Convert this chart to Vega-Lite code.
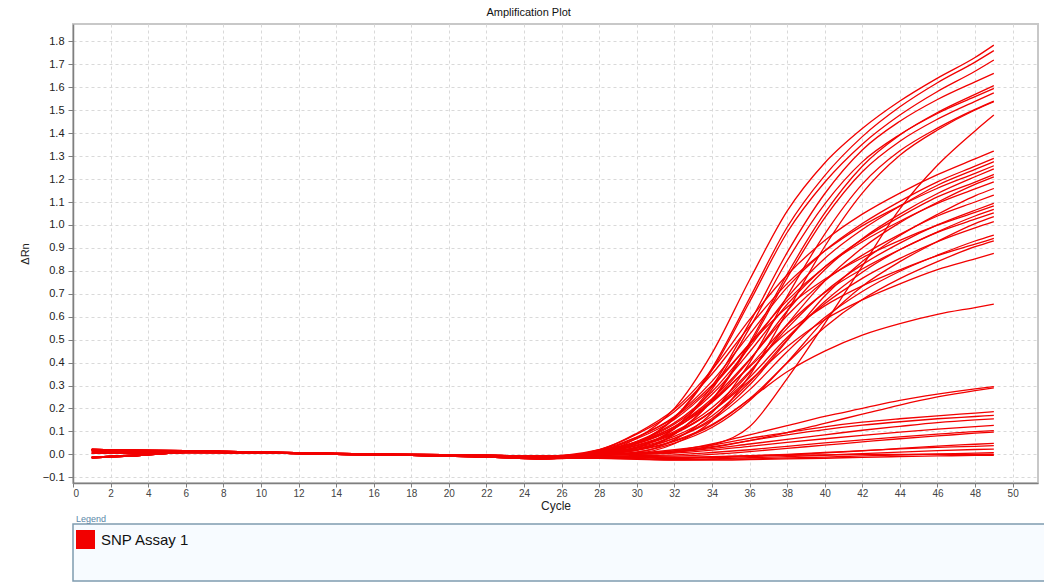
{
  "$schema": "https://vega.github.io/schema/vega-lite/v6.json",
  "background": "white",
  "padding": {"left": 18, "top": 6, "right": 0, "bottom": 0},
  "spacing": 2,
  "columns": 1,
  "align": "none",
  "resolve": {"scale": {"color": "independent"}, "legend": {"color": "independent"}},
  "config": {
    "font": "Liberation Sans",
    "axis": {
      "domainColor": "#7f7f7f",
      "domainWidth": 1.5,
      "tickColor": "#7f7f7f",
      "gridColor": "#d9d9d9",
      "gridDash": [3, 3],
      "gridWidth": 1,
      "titleFontWeight": "normal",
      "titleColor": "#222222"
    }
  },
  "datasets": {
    "curves": [
      {"well":"H1","cycle":1,"rn":0.022},{"well":"H1","cycle":3,"rn":0.018},{"well":"H1","cycle":6,"rn":0.016},{"well":"H1","cycle":10,"rn":0.01},{"well":"H1","cycle":14,"rn":0.004},{"well":"H1","cycle":18,"rn":0},{"well":"H1","cycle":22,"rn":-0.004},{"well":"H1","cycle":25,"rn":-0.008},{"well":"H1","cycle":28,"rn":0.01},{"well":"H1","cycle":30,"rn":0.07},{"well":"H1","cycle":32,"rn":0.2},{"well":"H1","cycle":34,"rn":0.44},{"well":"H1","cycle":36,"rn":0.76},{"well":"H1","cycle":38,"rn":1.06},{"well":"H1","cycle":40,"rn":1.27},{"well":"H1","cycle":42,"rn":1.42},{"well":"H1","cycle":44,"rn":1.54},{"well":"H1","cycle":46,"rn":1.64},{"well":"H1","cycle":48,"rn":1.73},{"well":"H1","cycle":49,"rn":1.784},
      {"well":"H2","cycle":1,"rn":0.015},{"well":"H2","cycle":3,"rn":0.012},{"well":"H2","cycle":6,"rn":0.014},{"well":"H2","cycle":10,"rn":0.009},{"well":"H2","cycle":14,"rn":0.003},{"well":"H2","cycle":18,"rn":-0.002},{"well":"H2","cycle":22,"rn":-0.006},{"well":"H2","cycle":25,"rn":-0.01},{"well":"H2","cycle":28,"rn":0.005},{"well":"H2","cycle":30,"rn":0.05},{"well":"H2","cycle":32,"rn":0.16},{"well":"H2","cycle":34,"rn":0.375},{"well":"H2","cycle":36,"rn":0.68},{"well":"H2","cycle":38,"rn":0.99},{"well":"H2","cycle":40,"rn":1.215},{"well":"H2","cycle":42,"rn":1.385},{"well":"H2","cycle":44,"rn":1.515},{"well":"H2","cycle":46,"rn":1.62},{"well":"H2","cycle":48,"rn":1.71},{"well":"H2","cycle":49,"rn":1.76},
      {"well":"H3","cycle":1,"rn":-0.012},{"well":"H3","cycle":3,"rn":-0.005},{"well":"H3","cycle":6,"rn":0.012},{"well":"H3","cycle":10,"rn":0.008},{"well":"H3","cycle":14,"rn":0.002},{"well":"H3","cycle":18,"rn":-0.002},{"well":"H3","cycle":22,"rn":-0.008},{"well":"H3","cycle":25,"rn":-0.014},{"well":"H3","cycle":28,"rn":0.005},{"well":"H3","cycle":30,"rn":0.049},{"well":"H3","cycle":32,"rn":0.156},{"well":"H3","cycle":34,"rn":0.366},{"well":"H3","cycle":36,"rn":0.664},{"well":"H3","cycle":38,"rn":0.967},{"well":"H3","cycle":40,"rn":1.186},{"well":"H3","cycle":42,"rn":1.352},{"well":"H3","cycle":44,"rn":1.479},{"well":"H3","cycle":46,"rn":1.582},{"well":"H3","cycle":48,"rn":1.67},{"well":"H3","cycle":49,"rn":1.719},
      {"well":"H4","cycle":1,"rn":0.005},{"well":"H4","cycle":3,"rn":0.006},{"well":"H4","cycle":6,"rn":0.01},{"well":"H4","cycle":10,"rn":0.007},{"well":"H4","cycle":14,"rn":0.002},{"well":"H4","cycle":18,"rn":-0.003},{"well":"H4","cycle":22,"rn":-0.007},{"well":"H4","cycle":25,"rn":-0.012},{"well":"H4","cycle":28,"rn":0},{"well":"H4","cycle":30,"rn":0.029},{"well":"H4","cycle":32,"rn":0.115},{"well":"H4","cycle":34,"rn":0.296},{"well":"H4","cycle":36,"rn":0.573},{"well":"H4","cycle":38,"rn":0.879},{"well":"H4","cycle":40,"rn":1.136},{"well":"H4","cycle":42,"rn":1.327},{"well":"H4","cycle":44,"rn":1.452},{"well":"H4","cycle":46,"rn":1.547},{"well":"H4","cycle":48,"rn":1.624},{"well":"H4","cycle":49,"rn":1.661},
      {"well":"H5","cycle":1,"rn":0.02},{"well":"H5","cycle":3,"rn":0.015},{"well":"H5","cycle":6,"rn":0.013},{"well":"H5","cycle":10,"rn":0.006},{"well":"H5","cycle":14,"rn":0},{"well":"H5","cycle":18,"rn":-0.005},{"well":"H5","cycle":22,"rn":-0.012},{"well":"H5","cycle":25,"rn":-0.02},{"well":"H5","cycle":28,"rn":0},{"well":"H5","cycle":30,"rn":0.019},{"well":"H5","cycle":32,"rn":0.089},{"well":"H5","cycle":34,"rn":0.238},{"well":"H5","cycle":36,"rn":0.486},{"well":"H5","cycle":38,"rn":0.785},{"well":"H5","cycle":40,"rn":1.051},{"well":"H5","cycle":42,"rn":1.256},{"well":"H5","cycle":44,"rn":1.392},{"well":"H5","cycle":46,"rn":1.49},{"well":"H5","cycle":48,"rn":1.569},{"well":"H5","cycle":49,"rn":1.607},
      {"well":"H6","cycle":1,"rn":0.022},{"well":"H6","cycle":3,"rn":0.018},{"well":"H6","cycle":6,"rn":0.016},{"well":"H6","cycle":10,"rn":0.01},{"well":"H6","cycle":14,"rn":0.004},{"well":"H6","cycle":18,"rn":0},{"well":"H6","cycle":22,"rn":-0.004},{"well":"H6","cycle":25,"rn":-0.008},{"well":"H6","cycle":28,"rn":0},{"well":"H6","cycle":30,"rn":0.028},{"well":"H6","cycle":32,"rn":0.11},{"well":"H6","cycle":34,"rn":0.284},{"well":"H6","cycle":36,"rn":0.55},{"well":"H6","cycle":38,"rn":0.844},{"well":"H6","cycle":40,"rn":1.091},{"well":"H6","cycle":42,"rn":1.275},{"well":"H6","cycle":44,"rn":1.394},{"well":"H6","cycle":46,"rn":1.486},{"well":"H6","cycle":48,"rn":1.559},{"well":"H6","cycle":49,"rn":1.595},
      {"well":"H7","cycle":1,"rn":-0.015},{"well":"H7","cycle":3,"rn":-0.008},{"well":"H7","cycle":6,"rn":0.008},{"well":"H7","cycle":10,"rn":0.006},{"well":"H7","cycle":14,"rn":0},{"well":"H7","cycle":18,"rn":-0.004},{"well":"H7","cycle":22,"rn":-0.01},{"well":"H7","cycle":25,"rn":-0.016},{"well":"H7","cycle":28,"rn":0},{"well":"H7","cycle":30,"rn":0.018},{"well":"H7","cycle":32,"rn":0.087},{"well":"H7","cycle":34,"rn":0.234},{"well":"H7","cycle":36,"rn":0.476},{"well":"H7","cycle":38,"rn":0.769},{"well":"H7","cycle":40,"rn":1.031},{"well":"H7","cycle":42,"rn":1.232},{"well":"H7","cycle":44,"rn":1.365},{"well":"H7","cycle":46,"rn":1.461},{"well":"H7","cycle":48,"rn":1.539},{"well":"H7","cycle":49,"rn":1.576},
      {"well":"H8","cycle":1,"rn":0.015},{"well":"H8","cycle":3,"rn":0.012},{"well":"H8","cycle":6,"rn":0.014},{"well":"H8","cycle":10,"rn":0.009},{"well":"H8","cycle":14,"rn":0.003},{"well":"H8","cycle":18,"rn":-0.002},{"well":"H8","cycle":22,"rn":-0.006},{"well":"H8","cycle":25,"rn":-0.01},{"well":"H8","cycle":28,"rn":0},{"well":"H8","cycle":30,"rn":0.009},{"well":"H8","cycle":32,"rn":0.063},{"well":"H8","cycle":34,"rn":0.181},{"well":"H8","cycle":36,"rn":0.399},{"well":"H8","cycle":38,"rn":0.689},{"well":"H8","cycle":40,"rn":0.96},{"well":"H8","cycle":42,"rn":1.178},{"well":"H8","cycle":44,"rn":1.323},{"well":"H8","cycle":46,"rn":1.422},{"well":"H8","cycle":48,"rn":1.504},{"well":"H8","cycle":49,"rn":1.54},
      {"well":"H9","cycle":1,"rn":0.005},{"well":"H9","cycle":3,"rn":0.006},{"well":"H9","cycle":6,"rn":0.01},{"well":"H9","cycle":10,"rn":0.007},{"well":"H9","cycle":14,"rn":0.002},{"well":"H9","cycle":18,"rn":-0.003},{"well":"H9","cycle":22,"rn":-0.007},{"well":"H9","cycle":25,"rn":-0.012},{"well":"H9","cycle":28,"rn":0},{"well":"H9","cycle":30,"rn":0.005},{"well":"H9","cycle":32,"rn":0.046},{"well":"H9","cycle":34,"rn":0.146},{"well":"H9","cycle":36,"rn":0.343},{"well":"H9","cycle":38,"rn":0.622},{"well":"H9","cycle":40,"rn":0.906},{"well":"H9","cycle":42,"rn":1.139},{"well":"H9","cycle":44,"rn":1.304},{"well":"H9","cycle":46,"rn":1.414},{"well":"H9","cycle":48,"rn":1.501},{"well":"H9","cycle":49,"rn":1.537},
      {"well":"L1","cycle":1,"rn":-0.012},{"well":"L1","cycle":3,"rn":-0.005},{"well":"L1","cycle":6,"rn":0.012},{"well":"L1","cycle":10,"rn":0.008},{"well":"L1","cycle":14,"rn":0.002},{"well":"L1","cycle":18,"rn":-0.002},{"well":"L1","cycle":22,"rn":-0.008},{"well":"L1","cycle":25,"rn":-0.014},{"well":"L1","cycle":28,"rn":0},{"well":"L1","cycle":30,"rn":0},{"well":"L1","cycle":32,"rn":0.01},{"well":"L1","cycle":34,"rn":0.04},{"well":"L1","cycle":36,"rn":0.12},{"well":"L1","cycle":38,"rn":0.33},{"well":"L1","cycle":40,"rn":0.57},{"well":"L1","cycle":42,"rn":0.82},{"well":"L1","cycle":44,"rn":1.07},{"well":"L1","cycle":46,"rn":1.26},{"well":"L1","cycle":48,"rn":1.41},{"well":"L1","cycle":49,"rn":1.479},
      {"well":"M1","cycle":1,"rn":0.022},{"well":"M1","cycle":3,"rn":0.018},{"well":"M1","cycle":6,"rn":0.016},{"well":"M1","cycle":10,"rn":0.01},{"well":"M1","cycle":14,"rn":0.004},{"well":"M1","cycle":18,"rn":0},{"well":"M1","cycle":22,"rn":-0.004},{"well":"M1","cycle":25,"rn":-0.008},{"well":"M1","cycle":28,"rn":0.02},{"well":"M1","cycle":30,"rn":0.092},{"well":"M1","cycle":32,"rn":0.196},{"well":"M1","cycle":34,"rn":0.368},{"well":"M1","cycle":36,"rn":0.587},{"well":"M1","cycle":38,"rn":0.782},{"well":"M1","cycle":40,"rn":0.932},{"well":"M1","cycle":42,"rn":1.047},{"well":"M1","cycle":44,"rn":1.139},{"well":"M1","cycle":46,"rn":1.219},{"well":"M1","cycle":48,"rn":1.288},{"well":"M1","cycle":49,"rn":1.322},
      {"well":"M2","cycle":1,"rn":0.015},{"well":"M2","cycle":3,"rn":0.012},{"well":"M2","cycle":6,"rn":0.014},{"well":"M2","cycle":10,"rn":0.009},{"well":"M2","cycle":14,"rn":0.003},{"well":"M2","cycle":18,"rn":-0.002},{"well":"M2","cycle":22,"rn":-0.006},{"well":"M2","cycle":25,"rn":-0.01},{"well":"M2","cycle":28,"rn":0.015},{"well":"M2","cycle":30,"rn":0.074},{"well":"M2","cycle":32,"rn":0.165},{"well":"M2","cycle":34,"rn":0.318},{"well":"M2","cycle":36,"rn":0.523},{"well":"M2","cycle":38,"rn":0.728},{"well":"M2","cycle":40,"rn":0.887},{"well":"M2","cycle":42,"rn":1.006},{"well":"M2","cycle":44,"rn":1.103},{"well":"M2","cycle":46,"rn":1.188},{"well":"M2","cycle":48,"rn":1.256},{"well":"M2","cycle":49,"rn":1.29},
      {"well":"M3","cycle":1,"rn":-0.012},{"well":"M3","cycle":3,"rn":-0.005},{"well":"M3","cycle":6,"rn":0.012},{"well":"M3","cycle":10,"rn":0.008},{"well":"M3","cycle":14,"rn":0.002},{"well":"M3","cycle":18,"rn":-0.002},{"well":"M3","cycle":22,"rn":-0.008},{"well":"M3","cycle":25,"rn":-0.014},{"well":"M3","cycle":28,"rn":0.011},{"well":"M3","cycle":30,"rn":0.057},{"well":"M3","cycle":32,"rn":0.137},{"well":"M3","cycle":34,"rn":0.273},{"well":"M3","cycle":36,"rn":0.467},{"well":"M3","cycle":38,"rn":0.683},{"well":"M3","cycle":40,"rn":0.854},{"well":"M3","cycle":42,"rn":0.98},{"well":"M3","cycle":44,"rn":1.082},{"well":"M3","cycle":46,"rn":1.173},{"well":"M3","cycle":48,"rn":1.242},{"well":"M3","cycle":49,"rn":1.276},
      {"well":"M4","cycle":1,"rn":-0.015},{"well":"M4","cycle":3,"rn":-0.008},{"well":"M4","cycle":6,"rn":0.008},{"well":"M4","cycle":10,"rn":0.006},{"well":"M4","cycle":14,"rn":0},{"well":"M4","cycle":18,"rn":-0.004},{"well":"M4","cycle":22,"rn":-0.01},{"well":"M4","cycle":25,"rn":-0.016},{"well":"M4","cycle":28,"rn":0.02},{"well":"M4","cycle":30,"rn":0.088},{"well":"M4","cycle":32,"rn":0.186},{"well":"M4","cycle":34,"rn":0.35},{"well":"M4","cycle":36,"rn":0.558},{"well":"M4","cycle":38,"rn":0.744},{"well":"M4","cycle":40,"rn":0.886},{"well":"M4","cycle":42,"rn":0.996},{"well":"M4","cycle":44,"rn":1.083},{"well":"M4","cycle":46,"rn":1.16},{"well":"M4","cycle":48,"rn":1.225},{"well":"M4","cycle":49,"rn":1.258},
      {"well":"M5","cycle":1,"rn":0.005},{"well":"M5","cycle":3,"rn":0.006},{"well":"M5","cycle":6,"rn":0.01},{"well":"M5","cycle":10,"rn":0.007},{"well":"M5","cycle":14,"rn":0.002},{"well":"M5","cycle":18,"rn":-0.003},{"well":"M5","cycle":22,"rn":-0.007},{"well":"M5","cycle":25,"rn":-0.012},{"well":"M5","cycle":28,"rn":0.009},{"well":"M5","cycle":30,"rn":0.045},{"well":"M5","cycle":32,"rn":0.113},{"well":"M5","cycle":34,"rn":0.231},{"well":"M5","cycle":36,"rn":0.411},{"well":"M5","cycle":38,"rn":0.625},{"well":"M5","cycle":40,"rn":0.805},{"well":"M5","cycle":42,"rn":0.94},{"well":"M5","cycle":44,"rn":1.047},{"well":"M5","cycle":46,"rn":1.137},{"well":"M5","cycle":48,"rn":1.21},{"well":"M5","cycle":49,"rn":1.244},
      {"well":"M6","cycle":1,"rn":0.02},{"well":"M6","cycle":3,"rn":0.015},{"well":"M6","cycle":6,"rn":0.013},{"well":"M6","cycle":10,"rn":0.006},{"well":"M6","cycle":14,"rn":0},{"well":"M6","cycle":18,"rn":-0.005},{"well":"M6","cycle":22,"rn":-0.012},{"well":"M6","cycle":25,"rn":-0.02},{"well":"M6","cycle":28,"rn":0.011},{"well":"M6","cycle":30,"rn":0.054},{"well":"M6","cycle":32,"rn":0.131},{"well":"M6","cycle":34,"rn":0.261},{"well":"M6","cycle":36,"rn":0.446},{"well":"M6","cycle":38,"rn":0.653},{"well":"M6","cycle":40,"rn":0.817},{"well":"M6","cycle":42,"rn":0.937},{"well":"M6","cycle":44,"rn":1.035},{"well":"M6","cycle":46,"rn":1.122},{"well":"M6","cycle":48,"rn":1.187},{"well":"M6","cycle":49,"rn":1.22},
      {"well":"M7","cycle":1,"rn":0.022},{"well":"M7","cycle":3,"rn":0.018},{"well":"M7","cycle":6,"rn":0.016},{"well":"M7","cycle":10,"rn":0.01},{"well":"M7","cycle":14,"rn":0.004},{"well":"M7","cycle":18,"rn":0},{"well":"M7","cycle":22,"rn":-0.004},{"well":"M7","cycle":25,"rn":-0.008},{"well":"M7","cycle":28,"rn":0.006},{"well":"M7","cycle":30,"rn":0.033},{"well":"M7","cycle":32,"rn":0.089},{"well":"M7","cycle":34,"rn":0.189},{"well":"M7","cycle":36,"rn":0.355},{"well":"M7","cycle":38,"rn":0.566},{"well":"M7","cycle":40,"rn":0.755},{"well":"M7","cycle":42,"rn":0.899},{"well":"M7","cycle":44,"rn":1.01},{"well":"M7","cycle":46,"rn":1.099},{"well":"M7","cycle":48,"rn":1.177},{"well":"M7","cycle":49,"rn":1.21},
      {"well":"M8","cycle":1,"rn":0.015},{"well":"M8","cycle":3,"rn":0.012},{"well":"M8","cycle":6,"rn":0.014},{"well":"M8","cycle":10,"rn":0.009},{"well":"M8","cycle":14,"rn":0.003},{"well":"M8","cycle":18,"rn":-0.002},{"well":"M8","cycle":22,"rn":-0.006},{"well":"M8","cycle":25,"rn":-0.01},{"well":"M8","cycle":28,"rn":0.015},{"well":"M8","cycle":30,"rn":0.068},{"well":"M8","cycle":32,"rn":0.152},{"well":"M8","cycle":34,"rn":0.293},{"well":"M8","cycle":36,"rn":0.482},{"well":"M8","cycle":38,"rn":0.67},{"well":"M8","cycle":40,"rn":0.817},{"well":"M8","cycle":42,"rn":0.927},{"well":"M8","cycle":44,"rn":1.016},{"well":"M8","cycle":46,"rn":1.094},{"well":"M8","cycle":48,"rn":1.157},{"well":"M8","cycle":49,"rn":1.188},
      {"well":"M9","cycle":1,"rn":-0.012},{"well":"M9","cycle":3,"rn":-0.005},{"well":"M9","cycle":6,"rn":0.012},{"well":"M9","cycle":10,"rn":0.008},{"well":"M9","cycle":14,"rn":0.002},{"well":"M9","cycle":18,"rn":-0.002},{"well":"M9","cycle":22,"rn":-0.008},{"well":"M9","cycle":25,"rn":-0.014},{"well":"M9","cycle":28,"rn":0.002},{"well":"M9","cycle":30,"rn":0.022},{"well":"M9","cycle":32,"rn":0.07},{"well":"M9","cycle":34,"rn":0.156},{"well":"M9","cycle":36,"rn":0.302},{"well":"M9","cycle":38,"rn":0.496},{"well":"M9","cycle":40,"rn":0.69},{"well":"M9","cycle":42,"rn":0.841},{"well":"M9","cycle":44,"rn":0.954},{"well":"M9","cycle":46,"rn":1.046},{"well":"M9","cycle":48,"rn":1.127},{"well":"M9","cycle":49,"rn":1.159},
      {"well":"M10","cycle":1,"rn":-0.015},{"well":"M10","cycle":3,"rn":-0.008},{"well":"M10","cycle":6,"rn":0.008},{"well":"M10","cycle":10,"rn":0.006},{"well":"M10","cycle":14,"rn":0},{"well":"M10","cycle":18,"rn":-0.004},{"well":"M10","cycle":22,"rn":-0.01},{"well":"M10","cycle":25,"rn":-0.016},{"well":"M10","cycle":28,"rn":0.01},{"well":"M10","cycle":30,"rn":0.05},{"well":"M10","cycle":32,"rn":0.121},{"well":"M10","cycle":34,"rn":0.242},{"well":"M10","cycle":36,"rn":0.414},{"well":"M10","cycle":38,"rn":0.605},{"well":"M10","cycle":40,"rn":0.757},{"well":"M10","cycle":42,"rn":0.868},{"well":"M10","cycle":44,"rn":0.959},{"well":"M10","cycle":46,"rn":1.039},{"well":"M10","cycle":48,"rn":1.1},{"well":"M10","cycle":49,"rn":1.13},
      {"well":"M11","cycle":1,"rn":0.005},{"well":"M11","cycle":3,"rn":0.006},{"well":"M11","cycle":6,"rn":0.01},{"well":"M11","cycle":10,"rn":0.007},{"well":"M11","cycle":14,"rn":0.002},{"well":"M11","cycle":18,"rn":-0.003},{"well":"M11","cycle":22,"rn":-0.007},{"well":"M11","cycle":25,"rn":-0.012},{"well":"M11","cycle":28,"rn":0.008},{"well":"M11","cycle":30,"rn":0.04},{"well":"M11","cycle":32,"rn":0.099},{"well":"M11","cycle":34,"rn":0.203},{"well":"M11","cycle":36,"rn":0.361},{"well":"M11","cycle":38,"rn":0.549},{"well":"M11","cycle":40,"rn":0.708},{"well":"M11","cycle":42,"rn":0.827},{"well":"M11","cycle":44,"rn":0.921},{"well":"M11","cycle":46,"rn":1.0},{"well":"M11","cycle":48,"rn":1.064},{"well":"M11","cycle":49,"rn":1.094},
      {"well":"M12","cycle":1,"rn":0.02},{"well":"M12","cycle":3,"rn":0.015},{"well":"M12","cycle":6,"rn":0.013},{"well":"M12","cycle":10,"rn":0.006},{"well":"M12","cycle":14,"rn":0},{"well":"M12","cycle":18,"rn":-0.005},{"well":"M12","cycle":22,"rn":-0.012},{"well":"M12","cycle":25,"rn":-0.02},{"well":"M12","cycle":28,"rn":0.018},{"well":"M12","cycle":30,"rn":0.075},{"well":"M12","cycle":32,"rn":0.16},{"well":"M12","cycle":34,"rn":0.301},{"well":"M12","cycle":36,"rn":0.48},{"well":"M12","cycle":38,"rn":0.641},{"well":"M12","cycle":40,"rn":0.763},{"well":"M12","cycle":42,"rn":0.857},{"well":"M12","cycle":44,"rn":0.933},{"well":"M12","cycle":46,"rn":0.999},{"well":"M12","cycle":48,"rn":1.055},{"well":"M12","cycle":49,"rn":1.083},
      {"well":"M13","cycle":1,"rn":0.022},{"well":"M13","cycle":3,"rn":0.018},{"well":"M13","cycle":6,"rn":0.016},{"well":"M13","cycle":10,"rn":0.01},{"well":"M13","cycle":14,"rn":0.004},{"well":"M13","cycle":18,"rn":0},{"well":"M13","cycle":22,"rn":-0.004},{"well":"M13","cycle":25,"rn":-0.008},{"well":"M13","cycle":28,"rn":0.005},{"well":"M13","cycle":30,"rn":0.029},{"well":"M13","cycle":32,"rn":0.078},{"well":"M13","cycle":34,"rn":0.167},{"well":"M13","cycle":36,"rn":0.314},{"well":"M13","cycle":38,"rn":0.5},{"well":"M13","cycle":40,"rn":0.666},{"well":"M13","cycle":42,"rn":0.794},{"well":"M13","cycle":44,"rn":0.892},{"well":"M13","cycle":46,"rn":0.97},{"well":"M13","cycle":48,"rn":1.039},{"well":"M13","cycle":49,"rn":1.068},
      {"well":"M14","cycle":1,"rn":0.015},{"well":"M14","cycle":3,"rn":0.012},{"well":"M14","cycle":6,"rn":0.014},{"well":"M14","cycle":10,"rn":0.009},{"well":"M14","cycle":14,"rn":0.003},{"well":"M14","cycle":18,"rn":-0.002},{"well":"M14","cycle":22,"rn":-0.006},{"well":"M14","cycle":25,"rn":-0.01},{"well":"M14","cycle":28,"rn":0.009},{"well":"M14","cycle":30,"rn":0.047},{"well":"M14","cycle":32,"rn":0.113},{"well":"M14","cycle":34,"rn":0.226},{"well":"M14","cycle":36,"rn":0.385},{"well":"M14","cycle":38,"rn":0.564},{"well":"M14","cycle":40,"rn":0.705},{"well":"M14","cycle":42,"rn":0.808},{"well":"M14","cycle":44,"rn":0.893},{"well":"M14","cycle":46,"rn":0.968},{"well":"M14","cycle":48,"rn":1.025},{"well":"M14","cycle":49,"rn":1.053},
      {"well":"M15","cycle":1,"rn":-0.012},{"well":"M15","cycle":3,"rn":-0.005},{"well":"M15","cycle":6,"rn":0.012},{"well":"M15","cycle":10,"rn":0.008},{"well":"M15","cycle":14,"rn":0.002},{"well":"M15","cycle":18,"rn":-0.002},{"well":"M15","cycle":22,"rn":-0.008},{"well":"M15","cycle":25,"rn":-0.014},{"well":"M15","cycle":28,"rn":0},{"well":"M15","cycle":30,"rn":0.01},{"well":"M15","cycle":32,"rn":0.049},{"well":"M15","cycle":34,"rn":0.117},{"well":"M15","cycle":36,"rn":0.234},{"well":"M15","cycle":38,"rn":0.401},{"well":"M15","cycle":40,"rn":0.586},{"well":"M15","cycle":42,"rn":0.733},{"well":"M15","cycle":44,"rn":0.84},{"well":"M15","cycle":46,"rn":0.928},{"well":"M15","cycle":48,"rn":1.006},{"well":"M15","cycle":49,"rn":1.036},
      {"well":"M16","cycle":1,"rn":-0.015},{"well":"M16","cycle":3,"rn":-0.008},{"well":"M16","cycle":6,"rn":0.008},{"well":"M16","cycle":10,"rn":0.006},{"well":"M16","cycle":14,"rn":0},{"well":"M16","cycle":18,"rn":-0.004},{"well":"M16","cycle":22,"rn":-0.01},{"well":"M16","cycle":25,"rn":-0.016},{"well":"M16","cycle":28,"rn":0.007},{"well":"M16","cycle":30,"rn":0.037},{"well":"M16","cycle":32,"rn":0.092},{"well":"M16","cycle":34,"rn":0.188},{"well":"M16","cycle":36,"rn":0.335},{"well":"M16","cycle":38,"rn":0.509},{"well":"M16","cycle":40,"rn":0.656},{"well":"M16","cycle":42,"rn":0.767},{"well":"M16","cycle":44,"rn":0.854},{"well":"M16","cycle":46,"rn":0.927},{"well":"M16","cycle":48,"rn":0.987},{"well":"M16","cycle":49,"rn":1.014},
      {"well":"M17","cycle":1,"rn":0.005},{"well":"M17","cycle":3,"rn":0.006},{"well":"M17","cycle":6,"rn":0.01},{"well":"M17","cycle":10,"rn":0.007},{"well":"M17","cycle":14,"rn":0.002},{"well":"M17","cycle":18,"rn":-0.003},{"well":"M17","cycle":22,"rn":-0.007},{"well":"M17","cycle":25,"rn":-0.012},{"well":"M17","cycle":28,"rn":0.004},{"well":"M17","cycle":30,"rn":0.026},{"well":"M17","cycle":32,"rn":0.07},{"well":"M17","cycle":34,"rn":0.149},{"well":"M17","cycle":36,"rn":0.281},{"well":"M17","cycle":38,"rn":0.447},{"well":"M17","cycle":40,"rn":0.596},{"well":"M17","cycle":42,"rn":0.71},{"well":"M17","cycle":44,"rn":0.798},{"well":"M17","cycle":46,"rn":0.868},{"well":"M17","cycle":48,"rn":0.93},{"well":"M17","cycle":49,"rn":0.956},
      {"well":"M18","cycle":1,"rn":0.02},{"well":"M18","cycle":3,"rn":0.015},{"well":"M18","cycle":6,"rn":0.013},{"well":"M18","cycle":10,"rn":0.006},{"well":"M18","cycle":14,"rn":0},{"well":"M18","cycle":18,"rn":-0.005},{"well":"M18","cycle":22,"rn":-0.012},{"well":"M18","cycle":25,"rn":-0.02},{"well":"M18","cycle":28,"rn":0.017},{"well":"M18","cycle":30,"rn":0.054},{"well":"M18","cycle":32,"rn":0.12},{"well":"M18","cycle":34,"rn":0.232},{"well":"M18","cycle":36,"rn":0.381},{"well":"M18","cycle":38,"rn":0.531},{"well":"M18","cycle":40,"rn":0.647},{"well":"M18","cycle":42,"rn":0.734},{"well":"M18","cycle":44,"rn":0.804},{"well":"M18","cycle":46,"rn":0.866},{"well":"M18","cycle":48,"rn":0.916},{"well":"M18","cycle":49,"rn":0.941},
      {"well":"M19","cycle":1,"rn":0.022},{"well":"M19","cycle":3,"rn":0.018},{"well":"M19","cycle":6,"rn":0.016},{"well":"M19","cycle":10,"rn":0.01},{"well":"M19","cycle":14,"rn":0.004},{"well":"M19","cycle":18,"rn":0},{"well":"M19","cycle":22,"rn":-0.004},{"well":"M19","cycle":25,"rn":-0.008},{"well":"M19","cycle":28,"rn":0.002},{"well":"M19","cycle":30,"rn":0.017},{"well":"M19","cycle":32,"rn":0.056},{"well":"M19","cycle":34,"rn":0.126},{"well":"M19","cycle":36,"rn":0.242},{"well":"M19","cycle":38,"rn":0.398},{"well":"M19","cycle":40,"rn":0.554},{"well":"M19","cycle":42,"rn":0.675},{"well":"M19","cycle":44,"rn":0.766},{"well":"M19","cycle":46,"rn":0.84},{"well":"M19","cycle":48,"rn":0.905},{"well":"M19","cycle":49,"rn":0.931},
      {"well":"M20","cycle":1,"rn":0.015},{"well":"M20","cycle":3,"rn":0.012},{"well":"M20","cycle":6,"rn":0.014},{"well":"M20","cycle":10,"rn":0.009},{"well":"M20","cycle":14,"rn":0.003},{"well":"M20","cycle":18,"rn":-0.002},{"well":"M20","cycle":22,"rn":-0.006},{"well":"M20","cycle":25,"rn":-0.01},{"well":"M20","cycle":28,"rn":0.008},{"well":"M20","cycle":30,"rn":0.039},{"well":"M20","cycle":32,"rn":0.094},{"well":"M20","cycle":34,"rn":0.188},{"well":"M20","cycle":36,"rn":0.321},{"well":"M20","cycle":38,"rn":0.469},{"well":"M20","cycle":40,"rn":0.587},{"well":"M20","cycle":42,"rn":0.673},{"well":"M20","cycle":44,"rn":0.743},{"well":"M20","cycle":46,"rn":0.805},{"well":"M20","cycle":48,"rn":0.852},{"well":"M20","cycle":49,"rn":0.876},
      {"well":"Q1","cycle":1,"rn":-0.012},{"well":"Q1","cycle":3,"rn":-0.005},{"well":"Q1","cycle":6,"rn":0.012},{"well":"Q1","cycle":10,"rn":0.008},{"well":"Q1","cycle":14,"rn":0.002},{"well":"Q1","cycle":18,"rn":-0.002},{"well":"Q1","cycle":22,"rn":-0.008},{"well":"Q1","cycle":25,"rn":-0.014},{"well":"Q1","cycle":28,"rn":0.005},{"well":"Q1","cycle":30,"rn":0.02},{"well":"Q1","cycle":32,"rn":0.06},{"well":"Q1","cycle":34,"rn":0.13},{"well":"Q1","cycle":36,"rn":0.24},{"well":"Q1","cycle":38,"rn":0.36},{"well":"Q1","cycle":40,"rn":0.45},{"well":"Q1","cycle":42,"rn":0.52},{"well":"Q1","cycle":44,"rn":0.57},{"well":"Q1","cycle":46,"rn":0.61},{"well":"Q1","cycle":48,"rn":0.64},{"well":"Q1","cycle":49,"rn":0.655},
      {"well":"N1","cycle":1,"rn":-0.015},{"well":"N1","cycle":3,"rn":-0.008},{"well":"N1","cycle":6,"rn":0.008},{"well":"N1","cycle":10,"rn":0.006},{"well":"N1","cycle":14,"rn":0},{"well":"N1","cycle":18,"rn":-0.004},{"well":"N1","cycle":22,"rn":-0.01},{"well":"N1","cycle":25,"rn":-0.016},{"well":"N1","cycle":28,"rn":0},{"well":"N1","cycle":30,"rn":0.004},{"well":"N1","cycle":32,"rn":0.015},{"well":"N1","cycle":34,"rn":0.045},{"well":"N1","cycle":36,"rn":0.085},{"well":"N1","cycle":38,"rn":0.125},{"well":"N1","cycle":40,"rn":0.165},{"well":"N1","cycle":42,"rn":0.2},{"well":"N1","cycle":44,"rn":0.235},{"well":"N1","cycle":46,"rn":0.262},{"well":"N1","cycle":48,"rn":0.285},{"well":"N1","cycle":49,"rn":0.295},
      {"well":"N2","cycle":1,"rn":0.005},{"well":"N2","cycle":3,"rn":0.006},{"well":"N2","cycle":6,"rn":0.01},{"well":"N2","cycle":10,"rn":0.007},{"well":"N2","cycle":14,"rn":0.002},{"well":"N2","cycle":18,"rn":-0.003},{"well":"N2","cycle":22,"rn":-0.007},{"well":"N2","cycle":25,"rn":-0.012},{"well":"N2","cycle":28,"rn":0},{"well":"N2","cycle":30,"rn":0.002},{"well":"N2","cycle":32,"rn":0.01},{"well":"N2","cycle":34,"rn":0.03},{"well":"N2","cycle":36,"rn":0.06},{"well":"N2","cycle":38,"rn":0.095},{"well":"N2","cycle":40,"rn":0.135},{"well":"N2","cycle":42,"rn":0.175},{"well":"N2","cycle":44,"rn":0.215},{"well":"N2","cycle":46,"rn":0.25},{"well":"N2","cycle":48,"rn":0.278},{"well":"N2","cycle":49,"rn":0.29},
      {"well":"N3","cycle":1,"rn":0.02},{"well":"N3","cycle":3,"rn":0.015},{"well":"N3","cycle":6,"rn":0.013},{"well":"N3","cycle":10,"rn":0.006},{"well":"N3","cycle":14,"rn":0},{"well":"N3","cycle":18,"rn":-0.005},{"well":"N3","cycle":22,"rn":-0.012},{"well":"N3","cycle":25,"rn":-0.02},{"well":"N3","cycle":28,"rn":0},{"well":"N3","cycle":30,"rn":0.005},{"well":"N3","cycle":32,"rn":0.02},{"well":"N3","cycle":34,"rn":0.04},{"well":"N3","cycle":36,"rn":0.07},{"well":"N3","cycle":38,"rn":0.095},{"well":"N3","cycle":40,"rn":0.12},{"well":"N3","cycle":42,"rn":0.14},{"well":"N3","cycle":44,"rn":0.155},{"well":"N3","cycle":46,"rn":0.168},{"well":"N3","cycle":48,"rn":0.18},{"well":"N3","cycle":49,"rn":0.186},
      {"well":"N4","cycle":1,"rn":0.022},{"well":"N4","cycle":3,"rn":0.018},{"well":"N4","cycle":6,"rn":0.016},{"well":"N4","cycle":10,"rn":0.01},{"well":"N4","cycle":14,"rn":0.004},{"well":"N4","cycle":18,"rn":0},{"well":"N4","cycle":22,"rn":-0.004},{"well":"N4","cycle":25,"rn":-0.008},{"well":"N4","cycle":28,"rn":-0.002},{"well":"N4","cycle":30,"rn":0.003},{"well":"N4","cycle":32,"rn":0.015},{"well":"N4","cycle":34,"rn":0.033},{"well":"N4","cycle":36,"rn":0.06},{"well":"N4","cycle":38,"rn":0.085},{"well":"N4","cycle":40,"rn":0.108},{"well":"N4","cycle":42,"rn":0.127},{"well":"N4","cycle":44,"rn":0.142},{"well":"N4","cycle":46,"rn":0.155},{"well":"N4","cycle":48,"rn":0.165},{"well":"N4","cycle":49,"rn":0.17},
      {"well":"N5","cycle":1,"rn":0.015},{"well":"N5","cycle":3,"rn":0.012},{"well":"N5","cycle":6,"rn":0.014},{"well":"N5","cycle":10,"rn":0.009},{"well":"N5","cycle":14,"rn":0.003},{"well":"N5","cycle":18,"rn":-0.002},{"well":"N5","cycle":22,"rn":-0.006},{"well":"N5","cycle":25,"rn":-0.01},{"well":"N5","cycle":28,"rn":-0.004},{"well":"N5","cycle":30,"rn":0.002},{"well":"N5","cycle":32,"rn":0.01},{"well":"N5","cycle":34,"rn":0.025},{"well":"N5","cycle":36,"rn":0.045},{"well":"N5","cycle":38,"rn":0.065},{"well":"N5","cycle":40,"rn":0.085},{"well":"N5","cycle":42,"rn":0.105},{"well":"N5","cycle":44,"rn":0.122},{"well":"N5","cycle":46,"rn":0.138},{"well":"N5","cycle":48,"rn":0.15},{"well":"N5","cycle":49,"rn":0.155},
      {"well":"N6","cycle":1,"rn":-0.012},{"well":"N6","cycle":3,"rn":-0.005},{"well":"N6","cycle":6,"rn":0.012},{"well":"N6","cycle":10,"rn":0.008},{"well":"N6","cycle":14,"rn":0.002},{"well":"N6","cycle":18,"rn":-0.002},{"well":"N6","cycle":22,"rn":-0.008},{"well":"N6","cycle":25,"rn":-0.014},{"well":"N6","cycle":28,"rn":-0.006},{"well":"N6","cycle":30,"rn":0},{"well":"N6","cycle":32,"rn":0.005},{"well":"N6","cycle":34,"rn":0.018},{"well":"N6","cycle":36,"rn":0.035},{"well":"N6","cycle":38,"rn":0.052},{"well":"N6","cycle":40,"rn":0.068},{"well":"N6","cycle":42,"rn":0.083},{"well":"N6","cycle":44,"rn":0.097},{"well":"N6","cycle":46,"rn":0.11},{"well":"N6","cycle":48,"rn":0.121},{"well":"N6","cycle":49,"rn":0.126},
      {"well":"N7","cycle":1,"rn":-0.015},{"well":"N7","cycle":3,"rn":-0.008},{"well":"N7","cycle":6,"rn":0.008},{"well":"N7","cycle":10,"rn":0.006},{"well":"N7","cycle":14,"rn":0},{"well":"N7","cycle":18,"rn":-0.004},{"well":"N7","cycle":22,"rn":-0.01},{"well":"N7","cycle":25,"rn":-0.016},{"well":"N7","cycle":28,"rn":-0.008},{"well":"N7","cycle":30,"rn":-0.005},{"well":"N7","cycle":32,"rn":-0.002},{"well":"N7","cycle":34,"rn":0.008},{"well":"N7","cycle":36,"rn":0.02},{"well":"N7","cycle":38,"rn":0.035},{"well":"N7","cycle":40,"rn":0.05},{"well":"N7","cycle":42,"rn":0.063},{"well":"N7","cycle":44,"rn":0.076},{"well":"N7","cycle":46,"rn":0.088},{"well":"N7","cycle":48,"rn":0.099},{"well":"N7","cycle":49,"rn":0.103},
      {"well":"N8","cycle":1,"rn":0.005},{"well":"N8","cycle":3,"rn":0.006},{"well":"N8","cycle":6,"rn":0.01},{"well":"N8","cycle":10,"rn":0.007},{"well":"N8","cycle":14,"rn":0.002},{"well":"N8","cycle":18,"rn":-0.003},{"well":"N8","cycle":22,"rn":-0.007},{"well":"N8","cycle":25,"rn":-0.012},{"well":"N8","cycle":28,"rn":-0.01},{"well":"N8","cycle":30,"rn":-0.01},{"well":"N8","cycle":32,"rn":-0.008},{"well":"N8","cycle":34,"rn":0},{"well":"N8","cycle":36,"rn":0.012},{"well":"N8","cycle":38,"rn":0.026},{"well":"N8","cycle":40,"rn":0.04},{"well":"N8","cycle":42,"rn":0.054},{"well":"N8","cycle":44,"rn":0.068},{"well":"N8","cycle":46,"rn":0.08},{"well":"N8","cycle":48,"rn":0.092},{"well":"N8","cycle":49,"rn":0.097},
      {"well":"N9","cycle":1,"rn":0.02},{"well":"N9","cycle":3,"rn":0.015},{"well":"N9","cycle":6,"rn":0.013},{"well":"N9","cycle":10,"rn":0.006},{"well":"N9","cycle":14,"rn":0},{"well":"N9","cycle":18,"rn":-0.005},{"well":"N9","cycle":22,"rn":-0.012},{"well":"N9","cycle":25,"rn":-0.02},{"well":"N9","cycle":28,"rn":-0.012},{"well":"N9","cycle":30,"rn":-0.015},{"well":"N9","cycle":32,"rn":-0.018},{"well":"N9","cycle":34,"rn":-0.015},{"well":"N9","cycle":36,"rn":-0.01},{"well":"N9","cycle":38,"rn":-0.003},{"well":"N9","cycle":40,"rn":0.006},{"well":"N9","cycle":42,"rn":0.015},{"well":"N9","cycle":44,"rn":0.026},{"well":"N9","cycle":46,"rn":0.036},{"well":"N9","cycle":48,"rn":0.044},{"well":"N9","cycle":49,"rn":0.048},
      {"well":"N10","cycle":1,"rn":0.022},{"well":"N10","cycle":3,"rn":0.018},{"well":"N10","cycle":6,"rn":0.016},{"well":"N10","cycle":10,"rn":0.01},{"well":"N10","cycle":14,"rn":0.004},{"well":"N10","cycle":18,"rn":0},{"well":"N10","cycle":22,"rn":-0.004},{"well":"N10","cycle":25,"rn":-0.008},{"well":"N10","cycle":28,"rn":-0.01},{"well":"N10","cycle":30,"rn":-0.012},{"well":"N10","cycle":32,"rn":-0.015},{"well":"N10","cycle":34,"rn":-0.012},{"well":"N10","cycle":36,"rn":-0.006},{"well":"N10","cycle":38,"rn":0},{"well":"N10","cycle":40,"rn":0.008},{"well":"N10","cycle":42,"rn":0.016},{"well":"N10","cycle":44,"rn":0.024},{"well":"N10","cycle":46,"rn":0.03},{"well":"N10","cycle":48,"rn":0.035},{"well":"N10","cycle":49,"rn":0.038},
      {"well":"N11","cycle":1,"rn":0.015},{"well":"N11","cycle":3,"rn":0.012},{"well":"N11","cycle":6,"rn":0.014},{"well":"N11","cycle":10,"rn":0.009},{"well":"N11","cycle":14,"rn":0.003},{"well":"N11","cycle":18,"rn":-0.002},{"well":"N11","cycle":22,"rn":-0.006},{"well":"N11","cycle":25,"rn":-0.01},{"well":"N11","cycle":28,"rn":-0.014},{"well":"N11","cycle":30,"rn":-0.018},{"well":"N11","cycle":32,"rn":-0.022},{"well":"N11","cycle":34,"rn":-0.02},{"well":"N11","cycle":36,"rn":-0.015},{"well":"N11","cycle":38,"rn":-0.01},{"well":"N11","cycle":40,"rn":-0.004},{"well":"N11","cycle":42,"rn":0.003},{"well":"N11","cycle":44,"rn":0.01},{"well":"N11","cycle":46,"rn":0.016},{"well":"N11","cycle":48,"rn":0.021},{"well":"N11","cycle":49,"rn":0.023},
      {"well":"N12","cycle":1,"rn":-0.012},{"well":"N12","cycle":3,"rn":-0.005},{"well":"N12","cycle":6,"rn":0.012},{"well":"N12","cycle":10,"rn":0.008},{"well":"N12","cycle":14,"rn":0.002},{"well":"N12","cycle":18,"rn":-0.002},{"well":"N12","cycle":22,"rn":-0.008},{"well":"N12","cycle":25,"rn":-0.014},{"well":"N12","cycle":28,"rn":-0.016},{"well":"N12","cycle":30,"rn":-0.02},{"well":"N12","cycle":32,"rn":-0.024},{"well":"N12","cycle":34,"rn":-0.022},{"well":"N12","cycle":36,"rn":-0.02},{"well":"N12","cycle":38,"rn":-0.016},{"well":"N12","cycle":40,"rn":-0.012},{"well":"N12","cycle":42,"rn":-0.007},{"well":"N12","cycle":44,"rn":-0.003},{"well":"N12","cycle":46,"rn":0.002},{"well":"N12","cycle":48,"rn":0.005},{"well":"N12","cycle":49,"rn":0.007},
      {"well":"N13","cycle":1,"rn":-0.015},{"well":"N13","cycle":3,"rn":-0.008},{"well":"N13","cycle":6,"rn":0.008},{"well":"N13","cycle":10,"rn":0.006},{"well":"N13","cycle":14,"rn":0},{"well":"N13","cycle":18,"rn":-0.004},{"well":"N13","cycle":22,"rn":-0.01},{"well":"N13","cycle":25,"rn":-0.016},{"well":"N13","cycle":28,"rn":-0.018},{"well":"N13","cycle":30,"rn":-0.022},{"well":"N13","cycle":32,"rn":-0.025},{"well":"N13","cycle":34,"rn":-0.025},{"well":"N13","cycle":36,"rn":-0.023},{"well":"N13","cycle":38,"rn":-0.02},{"well":"N13","cycle":40,"rn":-0.017},{"well":"N13","cycle":42,"rn":-0.013},{"well":"N13","cycle":44,"rn":-0.01},{"well":"N13","cycle":46,"rn":-0.007},{"well":"N13","cycle":48,"rn":-0.005},{"well":"N13","cycle":49,"rn":-0.004},
      {"well":"N14","cycle":1,"rn":0.005},{"well":"N14","cycle":3,"rn":0.006},{"well":"N14","cycle":6,"rn":0.01},{"well":"N14","cycle":10,"rn":0.007},{"well":"N14","cycle":14,"rn":0.002},{"well":"N14","cycle":18,"rn":-0.003},{"well":"N14","cycle":22,"rn":-0.007},{"well":"N14","cycle":25,"rn":-0.012},{"well":"N14","cycle":28,"rn":-0.008},{"well":"N14","cycle":30,"rn":-0.01},{"well":"N14","cycle":32,"rn":-0.012},{"well":"N14","cycle":34,"rn":-0.01},{"well":"N14","cycle":36,"rn":-0.006},{"well":"N14","cycle":38,"rn":-0.004},{"well":"N14","cycle":40,"rn":-0.002},{"well":"N14","cycle":42,"rn":0},{"well":"N14","cycle":44,"rn":0},{"well":"N14","cycle":46,"rn":0},{"well":"N14","cycle":48,"rn":0},{"well":"N14","cycle":49,"rn":0}
    ]
  },
  "concat": [
    {
      "width": 965,
      "height": 459,
      "title": {
        "text": "Amplification Plot",
        "frame": "bounds",
        "anchor": "middle",
        "fontSize": 11,
        "fontWeight": "normal",
        "color": "#111111",
        "offset": 6
      },
      "view": {"stroke": "#c8c8c8", "strokeWidth": 2, "fill": "white"},
      "data": {"name": "curves"},
      "mark": {"type": "line", "interpolate": "monotone", "color": "#f20000", "strokeWidth": 1.3, "clip": true},
      "encoding": {
        "x": {
          "field": "cycle",
          "type": "quantitative",
          "scale": {"domain": [0, 51.35], "nice": false, "zero": false},
          "axis": {
            "title": "Cycle",
            "values": [0, 2, 4, 6, 8, 10, 12, 14, 16, 18, 20, 22, 24, 26, 28, 30, 32, 34, 36, 38, 40, 42, 44, 46, 48, 50],
            "format": "d",
            "labelFontSize": 10,
            "labelColor": "#444444",
            "labelPadding": 1,
            "tickSize": 4,
            "titleFontSize": 12,
            "titlePadding": 2
          }
        },
        "y": {
          "field": "rn",
          "type": "quantitative",
          "scale": {"domain": [-0.125, 1.876], "nice": false, "zero": false},
          "axis": {
            "title": "ΔRn",
            "values": [-0.1, 0, 0.1, 0.2, 0.3, 0.4, 0.5, 0.6, 0.7, 0.8, 0.9, 1.0, 1.1, 1.2, 1.3, 1.4, 1.5, 1.6, 1.7, 1.8],
            "format": ".1f",
            "labelFontSize": 11,
            "labelColor": "#222222",
            "labelPadding": 4,
            "tickSize": 5,
            "titleFontSize": 11,
            "titlePadding": 12
          }
        },
        "detail": {"field": "well", "type": "nominal"}
      }
    },
    {
      "width": 1024,
      "height": 57,
      "view": {"stroke": "#7f9cb0", "strokeWidth": 1.5, "fill": "#f7fbff"},
      "data": {"values": [{"assay": "SNP Assay 1"}]},
      "mark": {"type": "point", "filled": true, "opacity": 0},
      "encoding": {
        "color": {
          "field": "assay",
          "type": "nominal",
          "scale": {"range": ["#f20000"]},
          "legend": {
            "title": "Legend",
            "orient": "none",
            "legendX": 3,
            "legendY": -9,
            "padding": 0,
            "titleFontSize": 9,
            "titleFontWeight": "normal",
            "titleColor": "#5b86a8",
            "titlePadding": 6,
            "symbolType": "square",
            "symbolSize": 360,
            "symbolOpacity": 1,
            "symbolStrokeWidth": 0,
            "labelFontSize": 15,
            "labelColor": "#111111",
            "labelOffset": 6
          }
        }
      }
    }
  ]
}
